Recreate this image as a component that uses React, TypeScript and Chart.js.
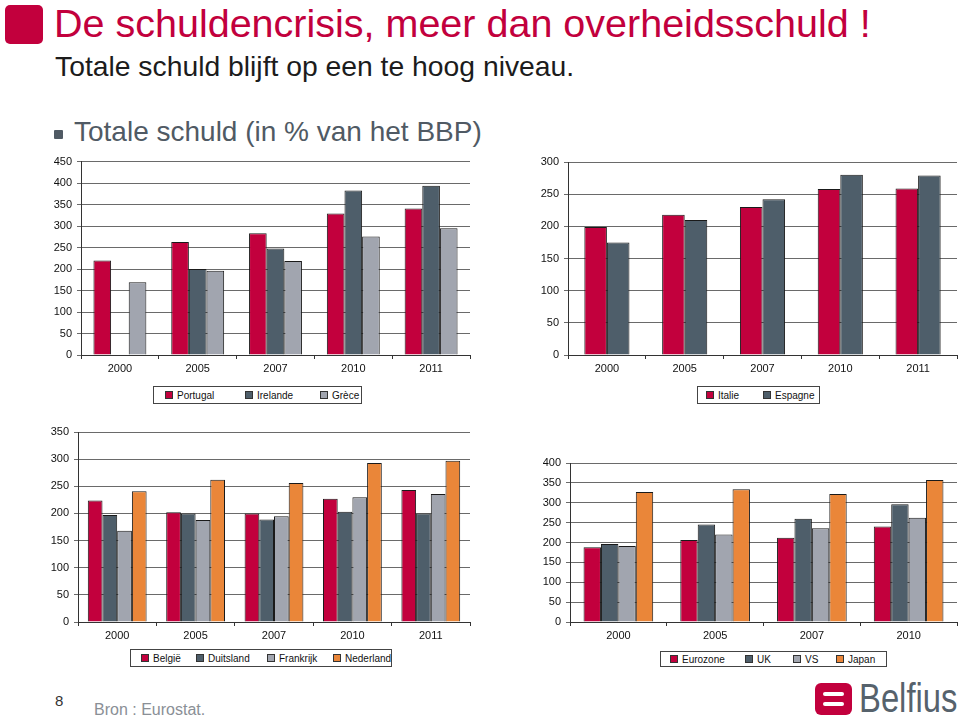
import React, { useEffect, useRef } from "react";
import { Chart, registerables } from "chart.js";

Chart.register(...registerables);

const CRIMSON = "#C2003D";
const SLATE = "#4E5E6A";
const LIGHT = "#A1A5AF";
const ORANGE = "#EA8639";

// Chart 1: Portugal / Irelande / Grèce
const years5 = ["2000", "2005", "2007", "2010", "2011"];
const portugal = [220, 263, 283, 329, 341];
const irelande = [null, 200, 248, 383, 394];
const grece = [169, 196, 219, 276, 295];

// Chart 2: Italie / Espagne
const italie = [199, 218, 230, 258, 259];
const espagne = [175, 210, 242, 280, 279];

// Chart 3: België / Duitsland / Frankrijk / Nederland
const belgie = [224, 202, 200, 227, 243];
const duitsland = [197, 200, 189, 203, 200];
const frankrijk = [168, 188, 195, 230, 236];
const nederland = [241, 262, 256, 293, 297];

// Chart 4: Eurozone / UK / VS / Japan
const years4 = ["2000", "2005", "2007", "2010"];
const eurozone = [188, 206, 212, 240];
const uk = [196, 245, 260, 296];
const vs = [191, 220, 236, 262];
const japan = [327, 334, 322, 357];

const FONT = 'Arial, "Liberation Sans", sans-serif';

type DS = { label: string; data: (number | null)[]; color: string };

type BarProps = {
  labels: string[];
  series: DS[];
  max: number;
  step: number;
  left: number;
  top: number;
  width: number;
  height: number;
  padTop: number;
  padRight: number;
  yWidth: number;
  xHeight: number;
  catPct: number;
};

function BarChart(p: BarProps) {
  const ref = useRef<HTMLCanvasElement | null>(null);
  useEffect(() => {
    if (!ref.current) return;
    const chart = new Chart(ref.current, {
      type: "bar",
      data: {
        labels: p.labels,
        datasets: p.series.map((s) => ({
          label: s.label,
          data: s.data,
          backgroundColor: s.color,
          borderColor: "#1a1a1a",
          borderWidth: 1,
          barPercentage: 1,
          categoryPercentage: p.catPct,
        })),
      },
      options: {
        animation: false,
        responsive: false,
        layout: { padding: { top: p.padTop, right: p.padRight, left: 0, bottom: 0 } },
        plugins: { legend: { display: false }, tooltip: { enabled: false } },
        scales: {
          x: {
            grid: {
              offset: true,
              drawOnChartArea: false,
              drawTicks: true,
              tickLength: 4,
              color: "#333",
            },
            border: { display: true, color: "#333", width: 1 },
            ticks: { color: "#111", font: { family: FONT, size: 11 }, padding: 3 },
            afterFit: (s: any) => {
              s.height = p.xHeight;
            },
          },
          y: {
            min: 0,
            max: p.max,
            grid: { color: "#6a6a6a", lineWidth: 1, tickLength: 4, drawTicks: true },
            border: { display: true, color: "#333", width: 1 },
            ticks: {
              stepSize: p.step,
              color: "#111",
              font: { family: FONT, size: 11 },
              padding: 5,
            },
            afterFit: (s: any) => {
              s.width = p.yWidth;
            },
          },
        },
      },
    });
    return () => chart.destroy();
  }, []);
  return (
    <canvas
      ref={ref}
      width={p.width}
      height={p.height}
      style={{ position: "absolute", left: p.left, top: p.top, width: p.width, height: p.height }}
    />
  );
}

type LegendItem = { label: string; color: string; x: number };

function Legend(props: { left: number; top: number; width: number; height: number; items: LegendItem[] }) {
  return (
    <div
      style={{
        position: "absolute",
        left: props.left,
        top: props.top,
        width: props.width,
        height: props.height,
        border: "1px solid #444",
        boxSizing: "border-box",
        background: "#fff",
        fontFamily: FONT,
        fontSize: 10,
        color: "#111",
      }}
    >
      {props.items.map((it) => (
        <div
          key={it.label}
          style={{
            position: "absolute",
            left: it.x,
            top: 0,
            height: props.height - 2,
            display: "flex",
            alignItems: "center",
            whiteSpace: "nowrap",
          }}
        >
          <span
            style={{
              display: "inline-block",
              width: 6,
              height: 6,
              background: it.color,
              border: "1px solid #333",
              marginRight: 4,
            }}
          />
          <span>{it.label}</span>
        </div>
      ))}
    </div>
  );
}

export default function App() {
  return (
    <div
      style={{
        position: "absolute",
        left: 0,
        top: 0,
        width: 960,
        height: 716,
        background: "#fff",
        overflow: "hidden",
        fontFamily: FONT,
      }}
    >
      {/* title */}
      <div
        style={{
          position: "absolute",
          left: 5,
          top: 5,
          width: 38,
          height: 39,
          background: CRIMSON,
          borderRadius: 5,
        }}
      />
      <div
        style={{
          position: "absolute",
          left: 54,
          top: 0,
          fontSize: 39.5,
          color: CRIMSON,
          whiteSpace: "nowrap",
          lineHeight: "46px",
        }}
      >
        De schuldencrisis, meer dan overheidsschuld !
      </div>
      <div
        style={{
          position: "absolute",
          left: 55,
          top: 49,
          fontSize: 28.3,
          color: "#1c1c1c",
          whiteSpace: "nowrap",
          lineHeight: "34px",
        }}
      >
        Totale schuld blijft op een te hoog niveau.
      </div>
      <div
        style={{
          position: "absolute",
          left: 54,
          top: 130,
          width: 9,
          height: 9,
          background: "#505A64",
          borderRadius: 1,
        }}
      />
      <div
        style={{
          position: "absolute",
          left: 74,
          top: 114,
          fontSize: 28,
          color: "#505A64",
          whiteSpace: "nowrap",
          lineHeight: "36px",
        }}
      >
        Totale schuld (in % van het BBP)
      </div>

      {/* charts */}
      <BarChart
        labels={years5}
        series={[
          { label: "Portugal", data: portugal, color: CRIMSON },
          { label: "Irelande", data: irelande, color: SLATE },
          { label: "Grèce", data: grece, color: LIGHT },
        ]}
        max={450}
        step={50}
        left={40}
        top={150}
        width={435}
        height={230}
        padTop={10}
        padRight={5}
        yWidth={41}
        xHeight={25}
        catPct={0.68}
      />
      <BarChart
        labels={years5}
        series={[
          { label: "Italie", data: italie, color: CRIMSON },
          { label: "Espagne", data: espagne, color: SLATE },
        ]}
        max={300}
        step={50}
        left={520}
        top={150}
        width={440}
        height={230}
        padTop={12}
        padRight={3}
        yWidth={48}
        xHeight={25}
        catPct={0.58}
      />
      <BarChart
        labels={years5}
        series={[
          { label: "België", data: belgie, color: CRIMSON },
          { label: "Duitsland", data: duitsland, color: SLATE },
          { label: "Frankrijk", data: frankrijk, color: LIGHT },
          { label: "Nederland", data: nederland, color: ORANGE },
        ]}
        max={350}
        step={50}
        left={40}
        top={420}
        width={435}
        height={222}
        padTop={12}
        padRight={5}
        yWidth={38}
        xHeight={20}
        catPct={0.75}
      />
      <BarChart
        labels={years4}
        series={[
          { label: "Eurozone", data: eurozone, color: CRIMSON },
          { label: "UK", data: uk, color: SLATE },
          { label: "VS", data: vs, color: LIGHT },
          { label: "Japan", data: japan, color: ORANGE },
        ]}
        max={400}
        step={50}
        left={520}
        top={440}
        width={440}
        height={202}
        padTop={23}
        padRight={3}
        yWidth={50}
        xHeight={20}
        catPct={0.72}
      />

      {/* legends */}
      <Legend
        left={153}
        top={386}
        width={209}
        height={18}
        items={[
          { label: "Portugal", color: CRIMSON, x: 11 },
          { label: "Irelande", color: SLATE, x: 91 },
          { label: "Grèce", color: LIGHT, x: 166 },
        ]}
      />
      <Legend
        left={697}
        top={386}
        width={123}
        height={18}
        items={[
          { label: "Italie", color: CRIMSON, x: 8 },
          { label: "Espagne", color: SLATE, x: 65 },
        ]}
      />
      <Legend
        left={130}
        top={649}
        width={262}
        height={18}
        items={[
          { label: "België", color: CRIMSON, x: 10 },
          { label: "Duitsland", color: SLATE, x: 65 },
          { label: "Frankrijk", color: LIGHT, x: 136 },
          { label: "Nederland", color: ORANGE, x: 202 },
        ]}
      />
      <Legend
        left={660}
        top={651}
        width={227}
        height={16}
        items={[
          { label: "Eurozone", color: CRIMSON, x: 9 },
          { label: "UK", color: SLATE, x: 84 },
          { label: "VS", color: LIGHT, x: 132 },
          { label: "Japan", color: ORANGE, x: 175 },
        ]}
      />

      {/* footer */}
      <div style={{ position: "absolute", left: 55, top: 692, fontSize: 15, color: "#333", lineHeight: "18px" }}>8</div>
      <div
        style={{
          position: "absolute",
          left: 94,
          top: 700,
          fontSize: 16,
          color: "#8a8f96",
          lineHeight: "20px",
          whiteSpace: "nowrap",
        }}
      >
        Bron : Eurostat.
      </div>
      <div
        style={{
          position: "absolute",
          left: 815,
          top: 683,
          width: 37,
          height: 32,
          background: CRIMSON,
          borderRadius: 6,
        }}
      >
        <div style={{ position: "absolute", left: 8, top: 9, width: 21, height: 4, background: "#fff", borderRadius: 2 }} />
        <div style={{ position: "absolute", left: 8, top: 19, width: 21, height: 4, background: "#fff", borderRadius: 2 }} />
      </div>
      <div
        style={{
          position: "absolute",
          left: 859,
          top: 674,
          fontSize: 41,
          fontFamily: FONT,
          color: "#56626C",
          lineHeight: "48px",
          whiteSpace: "nowrap",
          transform: "scaleX(0.8)",
          transformOrigin: "left top",
        }}
      >
        Belfius
      </div>
    </div>
  );
}
